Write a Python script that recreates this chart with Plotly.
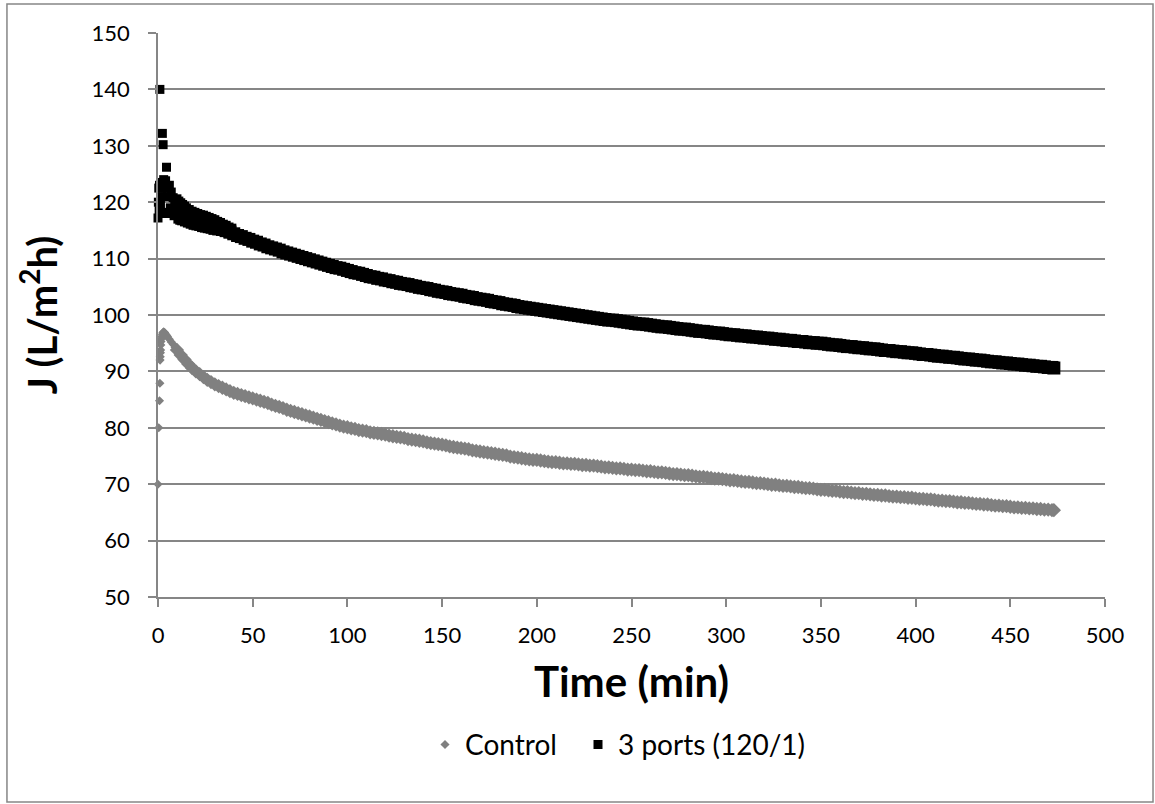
import plotly.graph_objects as go

# ---------------- data ----------------
# Control: early points (first minutes)
ctrl_t_early = [0, 0.4, 0.8, 1.0, 1.1, 1.2, 1.3, 1.4, 1.5, 1.6, 1.8, 2.0,
                2.3, 2.6, 3.0, 3.5, 4.0, 4.5, 5.0, 6.0, 7.0, 8.0, 9.0]
ctrl_j_early = [70.0, 80.0, 84.8, 87.9, 92.0, 92.6, 93.3, 93.8, 94.7, 95.3, 95.8, 96.2,
                96.6, 96.9, 97.0, 96.9, 96.6, 96.4, 96.2, 95.7, 95.2, 94.8, 94.3]

# 3 ports (120/1): early points (first ~40 minutes, scattered readings)
port_t_early = [0, 0.2, 0.4, 0.6, 0.8, 1.0, 1.3, 1.6, 2.0, 2.3, 2.7, 3.0, 3.3,
                3.6, 4.0, 4.5, 5.0, 5.5, 6.0, 6.5, 7.0, 7.5, 8.0, 8.5, 9.0,
                10.0, 11.0, 12.0, 13.0, 14.0, 15.0, 16.5, 18.0, 19.5, 21.0, 22.5,
                24.0, 25.5, 27.0, 28.5, 30.0, 31.5, 33.0, 34.5, 36.0, 37.5, 39.0,
                10.5, 11.5, 12.5, 14.0, 15.5, 17.0, 18.5, 20.0, 21.5, 23.0, 24.5,
                26.0, 27.5, 29.0, 31.0, 33.0, 35.0, 37.0, 39.0]
port_j_early = [117.2, 120.0, 122.5, 118.5, 123.0, 140.0, 119.5, 123.5, 121.0, 132.2,
                130.2, 124.0, 118.0, 122.5, 123.8, 126.2, 121.0, 118.2, 123.0, 119.0,
                121.8, 118.0, 120.8, 117.6, 120.0,
                120.6, 120.2, 119.9, 119.6, 119.3, 119.0, 118.7, 118.4, 118.2, 118.0, 117.8,
                117.7, 117.5, 117.3, 117.1, 116.9, 116.6, 116.4, 116.1, 115.9, 115.6, 115.4,
                117.0, 116.8, 116.7, 116.5, 116.3, 116.1, 115.9, 115.8, 115.7, 115.5, 115.4,
                115.3, 115.2, 115.0, 114.9, 114.8, 114.6, 114.4, 114.3]

# time stamps of the long run (min)
time_min = [
    10, 12, 14, 16, 18, 20, 22, 24, 26, 28,
    30, 32, 34, 36, 38, 40, 42, 44, 46, 48,
    50, 52, 54, 56, 58, 60, 62, 64, 66, 68,
    70, 72, 74, 76, 78, 80, 82, 84, 86, 88,
    90, 92, 94, 96, 98, 100, 102, 104, 106, 108,
    110, 112, 114, 116, 118, 120, 122, 124, 126, 128,
    130, 132, 134, 136, 138, 140, 142, 144, 146, 148,
    150, 152, 154, 156, 158, 160, 162, 164, 166, 168,
    170, 172, 174, 176, 178, 180, 182, 184, 186, 188,
    190, 192, 194, 196, 198, 200, 202, 204, 206, 208,
    210, 212, 214, 216, 218, 220, 222, 224, 226, 228,
    230, 232, 234, 236, 238, 240, 242, 244, 246, 248,
    250, 252, 254, 256, 258, 260, 262, 264, 266, 268,
    270, 272, 274, 276, 278, 280, 282, 284, 286, 288,
    290, 292, 294, 296, 298, 300, 302, 304, 306, 308,
    310, 312, 314, 316, 318, 320, 322, 324, 326, 328,
    330, 332, 334, 336, 338, 340, 342, 344, 346, 348,
    350, 352, 354, 356, 358, 360, 362, 364, 366, 368,
    370, 372, 374, 376, 378, 380, 382, 384, 386, 388,
    390, 392, 394, 396, 398, 400, 402, 404, 406, 408,
    410, 412, 414, 416, 418, 420, 422, 424, 426, 428,
    430, 432, 434, 436, 438, 440, 442, 444, 446, 448,
    450, 452, 454, 456, 458, 460, 462, 464, 466, 468,
    470, 472, 473,
]

ctrl_j = [
    93.8, 92.9, 92.1, 91.3, 90.6, 90.0, 89.5, 89.0, 88.5, 88.1,
    87.7, 87.4, 87.1, 86.8, 86.5, 86.2, 86.0, 85.8, 85.6, 85.4,
    85.2, 85.0, 84.8, 84.6, 84.4, 84.1, 83.9, 83.7, 83.5, 83.2,
    83.0, 82.8, 82.6, 82.4, 82.2, 82.0, 81.8, 81.6, 81.4, 81.2,
    81.0, 80.8, 80.6, 80.4, 80.2, 80.1, 79.9, 79.8, 79.6, 79.5,
    79.4, 79.2, 79.1, 79.0, 78.9, 78.8, 78.6, 78.5, 78.4, 78.3,
    78.2, 78.0, 77.9, 77.8, 77.7, 77.6, 77.4, 77.3, 77.2, 77.1,
    77.0, 76.9, 76.7, 76.6, 76.5, 76.4, 76.3, 76.2, 76.0, 75.9,
    75.8, 75.7, 75.6, 75.5, 75.4, 75.3, 75.2, 75.1, 74.9, 74.8,
    74.7, 74.6, 74.5, 74.4, 74.3, 74.3, 74.2, 74.1, 74.0, 73.9,
    73.9, 73.8, 73.7, 73.7, 73.6, 73.6, 73.5, 73.4, 73.4, 73.3,
    73.3, 73.2, 73.1, 73.0, 73.0, 72.9, 72.8, 72.8, 72.7, 72.6,
    72.6, 72.5, 72.5, 72.4, 72.3, 72.3, 72.2, 72.1, 72.1, 72.0,
    71.9, 71.8, 71.8, 71.7, 71.6, 71.6, 71.5, 71.4, 71.3, 71.3,
    71.2, 71.1, 71.0, 71.0, 70.9, 70.8, 70.7, 70.7, 70.6, 70.5,
    70.4, 70.4, 70.3, 70.2, 70.2, 70.1, 70.0, 69.9, 69.9, 69.8,
    69.7, 69.7, 69.6, 69.5, 69.5, 69.4, 69.3, 69.3, 69.2, 69.1,
    69.0, 69.0, 68.9, 68.8, 68.8, 68.7, 68.6, 68.6, 68.5, 68.4,
    68.4, 68.3, 68.3, 68.2, 68.1, 68.1, 68.0, 68.0, 67.9, 67.8,
    67.8, 67.7, 67.7, 67.6, 67.6, 67.5, 67.4, 67.4, 67.3, 67.3,
    67.2, 67.1, 67.1, 67.0, 67.0, 66.9, 66.8, 66.8, 66.7, 66.7,
    66.6, 66.5, 66.5, 66.4, 66.4, 66.3, 66.2, 66.2, 66.1, 66.1,
    66.0, 65.9, 65.9, 65.8, 65.8, 65.7, 65.7, 65.6, 65.6, 65.5,
    65.5, 65.4, 65.4,
]

port_j = [
    119.2, 118.7, 118.3, 117.9, 117.5, 117.2, 116.9, 116.6, 116.3, 116.1,
    115.8, 115.5, 115.2, 115.0, 114.7, 114.4, 114.1, 113.9, 113.6, 113.4,
    113.1, 112.9, 112.6, 112.4, 112.1, 111.9, 111.7, 111.5, 111.2, 111.0,
    110.8, 110.6, 110.4, 110.2, 110.0, 109.8, 109.6, 109.4, 109.2, 109.0,
    108.8, 108.6, 108.4, 108.3, 108.1, 107.9, 107.7, 107.5, 107.4, 107.2,
    107.0, 106.8, 106.7, 106.5, 106.4, 106.2, 106.1, 105.9, 105.8, 105.6,
    105.5, 105.4, 105.2, 105.1, 104.9, 104.8, 104.7, 104.5, 104.4, 104.2,
    104.1, 104.0, 103.8, 103.7, 103.6, 103.5, 103.3, 103.2, 103.1, 102.9,
    102.8, 102.7, 102.6, 102.4, 102.3, 102.2, 102.0, 101.9, 101.8, 101.7,
    101.5, 101.4, 101.3, 101.2, 101.1, 101.0, 100.9, 100.8, 100.7, 100.6,
    100.5, 100.4, 100.3, 100.2, 100.1, 100.0, 99.9, 99.8, 99.7, 99.6,
    99.5, 99.4, 99.3, 99.2, 99.1, 99.1, 99.0, 98.9, 98.8, 98.7,
    98.6, 98.5, 98.4, 98.4, 98.3, 98.2, 98.1, 98.0, 97.9, 97.9,
    97.8, 97.7, 97.6, 97.5, 97.5, 97.4, 97.3, 97.2, 97.1, 97.1,
    97.0, 96.9, 96.8, 96.8, 96.7, 96.6, 96.5, 96.5, 96.4, 96.3,
    96.3, 96.2, 96.1, 96.1, 96.0, 95.9, 95.9, 95.8, 95.7, 95.7,
    95.6, 95.5, 95.5, 95.4, 95.3, 95.3, 95.2, 95.1, 95.1, 95.0,
    95.0, 94.9, 94.8, 94.7, 94.7, 94.6, 94.5, 94.4, 94.4, 94.3,
    94.2, 94.2, 94.1, 94.0, 94.0, 93.9, 93.8, 93.7, 93.7, 93.6,
    93.5, 93.5, 93.4, 93.3, 93.3, 93.2, 93.1, 93.0, 93.0, 92.9,
    92.8, 92.7, 92.7, 92.6, 92.5, 92.5, 92.4, 92.3, 92.2, 92.2,
    92.1, 92.0, 92.0, 91.9, 91.8, 91.7, 91.7, 91.6, 91.5, 91.5,
    91.4, 91.3, 91.3, 91.2, 91.1, 91.1, 91.0, 90.9, 90.9, 90.8,
    90.7, 90.7, 90.6,
]

x_ticks = [0, 50, 100, 150, 200, 250, 300, 350, 400, 450, 500]
y_ticks = [50, 60, 70, 80, 90, 100, 110, 120, 130, 140, 150]

# ---------------- styling ----------------
GRAY = "#808080"
AXIS = "#868686"
FONT = "Lato"

fig = go.Figure()

fig.add_trace(go.Scatter(
    x=ctrl_t_early, y=ctrl_j_early, mode="markers", name="Control",
    legendgroup="ctrl", legend="legend", cliponaxis=False,
    marker=dict(symbol="diamond", size=7, color=GRAY, line=dict(width=0)),
))
fig.add_trace(go.Scatter(
    x=time_min, y=ctrl_j, mode="markers", name="Control",
    legendgroup="ctrl", showlegend=False, cliponaxis=False,
    marker=dict(symbol="diamond", size=11, color=GRAY, line=dict(width=0)),
))
fig.add_trace(go.Scatter(
    x=port_t_early, y=port_j_early, mode="markers", name="3 ports (120/1)",
    legendgroup="port", legend="legend2", cliponaxis=False,
    marker=dict(symbol="square", size=9, color="black", line=dict(width=0)),
))
fig.add_trace(go.Scatter(
    x=time_min, y=port_j, mode="markers", name="3 ports (120/1)",
    legendgroup="port", legend="legend2", showlegend=False, cliponaxis=False,
    marker=dict(symbol="square", size=13, color="black", line=dict(width=0)),
))

legend_style = dict(orientation="h", xanchor="left", y=-0.262, yanchor="middle",
                    font=dict(family=FONT, size=28, color="black"),
                    bgcolor="rgba(0,0,0,0)", borderwidth=0)

fig.update_layout(
    width=1155, height=804,
    margin=dict(l=158, r=50, t=33, b=207),
    paper_bgcolor="white", plot_bgcolor="white",
    font=dict(family=FONT, size=22, color="black"),
    showlegend=True,
    legend=dict(x=(425 - 158) / 947, **legend_style),
    legend2=dict(x=(578 - 158) / 947, **legend_style),
    shapes=[dict(type="rect", xref="paper", yref="paper",
                 x0=-0.1595, x1=1.0507, y0=-0.3635, y1=1.0514,
                 line=dict(color=AXIS, width=1.5), fillcolor="rgba(0,0,0,0)", layer="below")],
)

fig.update_xaxes(
    range=[0, 500], tickvals=x_ticks, ticktext=[str(v) for v in x_ticks],
    ticks="outside", ticklen=8, tickcolor=AXIS, tickwidth=1.5,
    showline=True, linecolor=AXIS, linewidth=1.5, showgrid=False, zeroline=False,
    ticklabelstandoff=10,
    title=dict(text="Time (min)", font=dict(family=FONT, size=42, weight="bold", color="black"),
               standoff=20),
)
fig.update_yaxes(
    range=[50, 150], tickvals=y_ticks, ticktext=[str(v) for v in y_ticks],
    ticks="outside", ticklen=8, tickcolor=AXIS, tickwidth=1.5,
    showline=True, linecolor=AXIS, linewidth=1.5,
    showgrid=True, gridcolor=AXIS, gridwidth=1.5, zeroline=False,
    ticklabelstandoff=14,
    title=dict(text="J (L/m<sup>2</sup>h)", font=dict(family=FONT, size=40, weight="bold", color="black"),
               standoff=22),
)

fig.write_html("out.html")
